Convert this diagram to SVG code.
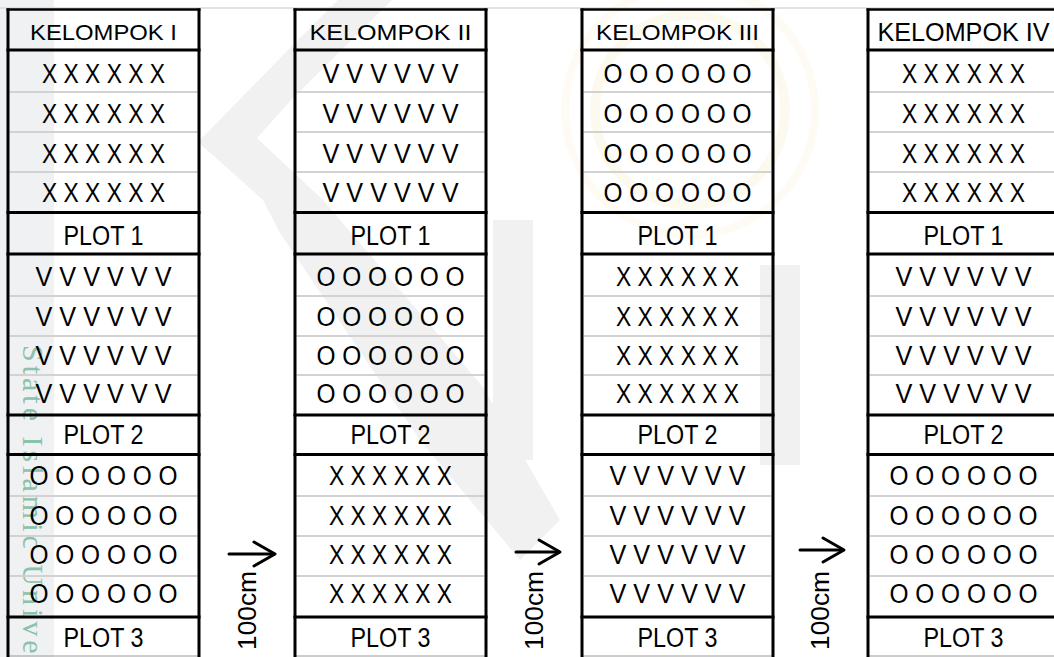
<svg xmlns="http://www.w3.org/2000/svg" width="1054" height="657" viewBox="0 0 1054 657">
<style>
  .t{font-family:"Liberation Sans",Arial,sans-serif;fill:#000;text-anchor:middle}
  .b{font-size:27px}
  .h{font-size:22px}
  .lbl{font-family:"Liberation Sans",Arial,sans-serif;font-size:26px;fill:#000}
  .thick{stroke:#000;stroke-width:3}
  .edge{stroke:#000;stroke-width:3}
  .thin{stroke:#d2d2d2;stroke-width:2}
  .bot{stroke:#9a9a9a;stroke-width:1}
  .wm{fill:#f1f1f1}
  .arrow{stroke:#000;stroke-width:3;fill:none;stroke-linecap:round;stroke-linejoin:round}
</style>
<defs>
  <g id="grid">
    <line class="thin" x1="1.5" y1="92" x2="189.5" y2="92"/>
    <line class="thin" x1="1.5" y1="132" x2="189.5" y2="132"/>
    <line class="thin" x1="1.5" y1="172" x2="189.5" y2="172"/>
    <line class="thin" x1="1.5" y1="296" x2="189.5" y2="296"/>
    <line class="thin" x1="1.5" y1="336" x2="189.5" y2="336"/>
    <line class="thin" x1="1.5" y1="375" x2="189.5" y2="375"/>
    <line class="thin" x1="1.5" y1="496" x2="189.5" y2="496"/>
    <line class="thin" x1="1.5" y1="536" x2="189.5" y2="536"/>
    <line class="thin" x1="1.5" y1="576" x2="189.5" y2="576"/>
    <line class="bot" x1="0" y1="656" x2="191" y2="656"/>
    <line class="edge" x1="-1.5" y1="9.5" x2="192.5" y2="9.5" style="stroke-width:2.5"/>
    <line class="thick" x1="-1.5" y1="50" x2="192.5" y2="50"/>
    <line class="thick" x1="-1.5" y1="212.5" x2="192.5" y2="212.5"/>
    <line class="thick" x1="-1.5" y1="254" x2="192.5" y2="254"/>
    <line class="thick" x1="-1.5" y1="415" x2="192.5" y2="415"/>
    <line class="thick" x1="-1.5" y1="454.5" x2="192.5" y2="454.5"/>
    <line class="thick" x1="-1.5" y1="617" x2="192.5" y2="617"/>
    <line class="edge" x1="0" y1="8.5" x2="0" y2="657"/>
    <line class="edge" x1="191" y1="8.5" x2="191" y2="657"/>
  </g>
</defs>
<rect width="1054" height="657" fill="#ffffff"/>

<g id="watermark">
  <rect x="0" y="0" width="54" height="657" fill="#eff1f2"/>
  <polygon class="wm" points="338,0 392,0 293,98 257,138 323,200 483,387 560,520 520,560 420,440 280,233 263,200 198,142 295,43"/>
  <rect class="wm" x="493" y="220" width="40" height="240"/>
  <rect class="wm" x="760" y="265" width="40" height="200"/>
  <circle cx="690" cy="110" r="95" fill="none" stroke="#fcf9ef" stroke-width="10"/>
  <circle cx="690" cy="110" r="125" fill="none" stroke="#fdfbf3" stroke-width="8"/>
  <text transform="translate(23,345) rotate(90)" font-family="'Liberation Serif',serif" font-size="30" letter-spacing="4" fill="#8cc1ab">State Islamic Unive</text>
</g>

<line x1="0" y1="8" x2="1054" y2="8" stroke="#d9d9d9" stroke-width="1.5"/>

<g id="kelompok-1" transform="translate(8,0)">
  <use href="#grid"/>
  <text class="t h" x="95.5" y="40" textLength="147" lengthAdjust="spacingAndGlyphs">KELOMPOK I</text>
  <text class="t b" x="95.5" y="83" textLength="123" lengthAdjust="spacingAndGlyphs">X X X X X X</text>
  <text class="t b" x="95.5" y="123" textLength="123" lengthAdjust="spacingAndGlyphs">X X X X X X</text>
  <text class="t b" x="95.5" y="163" textLength="123" lengthAdjust="spacingAndGlyphs">X X X X X X</text>
  <text class="t b" x="95.5" y="202" textLength="123" lengthAdjust="spacingAndGlyphs">X X X X X X</text>
  <text class="t b" x="95.5" y="245" textLength="80" lengthAdjust="spacingAndGlyphs">PLOT 1</text>
  <text class="t b" x="95.5" y="286" textLength="136" lengthAdjust="spacingAndGlyphs">V V V V V V</text>
  <text class="t b" x="95.5" y="326" textLength="136" lengthAdjust="spacingAndGlyphs">V V V V V V</text>
  <text class="t b" x="95.5" y="365" textLength="136" lengthAdjust="spacingAndGlyphs">V V V V V V</text>
  <text class="t b" x="95.5" y="403" textLength="136" lengthAdjust="spacingAndGlyphs">V V V V V V</text>
  <text class="t b" x="95.5" y="444" textLength="80" lengthAdjust="spacingAndGlyphs">PLOT 2</text>
  <text class="t b" x="95.5" y="485" textLength="148" lengthAdjust="spacingAndGlyphs">O O O O O O</text>
  <text class="t b" x="95.5" y="525" textLength="148" lengthAdjust="spacingAndGlyphs">O O O O O O</text>
  <text class="t b" x="95.5" y="564" textLength="148" lengthAdjust="spacingAndGlyphs">O O O O O O</text>
  <text class="t b" x="95.5" y="603" textLength="148" lengthAdjust="spacingAndGlyphs">O O O O O O</text>
  <text class="t b" x="95.5" y="647" textLength="80" lengthAdjust="spacingAndGlyphs">PLOT 3</text>
</g>

<g id="kelompok-2" transform="translate(295,0)">
  <use href="#grid"/>
  <text class="t h" x="95.5" y="40" textLength="162" lengthAdjust="spacingAndGlyphs">KELOMPOK II</text>
  <text class="t b" x="95.5" y="83" textLength="136" lengthAdjust="spacingAndGlyphs">V V V V V V</text>
  <text class="t b" x="95.5" y="123" textLength="136" lengthAdjust="spacingAndGlyphs">V V V V V V</text>
  <text class="t b" x="95.5" y="163" textLength="136" lengthAdjust="spacingAndGlyphs">V V V V V V</text>
  <text class="t b" x="95.5" y="202" textLength="136" lengthAdjust="spacingAndGlyphs">V V V V V V</text>
  <text class="t b" x="95.5" y="245" textLength="80" lengthAdjust="spacingAndGlyphs">PLOT 1</text>
  <text class="t b" x="95.5" y="286" textLength="148" lengthAdjust="spacingAndGlyphs">O O O O O O</text>
  <text class="t b" x="95.5" y="326" textLength="148" lengthAdjust="spacingAndGlyphs">O O O O O O</text>
  <text class="t b" x="95.5" y="365" textLength="148" lengthAdjust="spacingAndGlyphs">O O O O O O</text>
  <text class="t b" x="95.5" y="403" textLength="148" lengthAdjust="spacingAndGlyphs">O O O O O O</text>
  <text class="t b" x="95.5" y="444" textLength="80" lengthAdjust="spacingAndGlyphs">PLOT 2</text>
  <text class="t b" x="95.5" y="485" textLength="123" lengthAdjust="spacingAndGlyphs">X X X X X X</text>
  <text class="t b" x="95.5" y="525" textLength="123" lengthAdjust="spacingAndGlyphs">X X X X X X</text>
  <text class="t b" x="95.5" y="564" textLength="123" lengthAdjust="spacingAndGlyphs">X X X X X X</text>
  <text class="t b" x="95.5" y="603" textLength="123" lengthAdjust="spacingAndGlyphs">X X X X X X</text>
  <text class="t b" x="95.5" y="647" textLength="80" lengthAdjust="spacingAndGlyphs">PLOT 3</text>
</g>

<g id="kelompok-3" transform="translate(582,0)">
  <use href="#grid"/>
  <text class="t h" x="95.5" y="40" textLength="163" lengthAdjust="spacingAndGlyphs">KELOMPOK III</text>
  <text class="t b" x="95.5" y="83" textLength="148" lengthAdjust="spacingAndGlyphs">O O O O O O</text>
  <text class="t b" x="95.5" y="123" textLength="148" lengthAdjust="spacingAndGlyphs">O O O O O O</text>
  <text class="t b" x="95.5" y="163" textLength="148" lengthAdjust="spacingAndGlyphs">O O O O O O</text>
  <text class="t b" x="95.5" y="202" textLength="148" lengthAdjust="spacingAndGlyphs">O O O O O O</text>
  <text class="t b" x="95.5" y="245" textLength="80" lengthAdjust="spacingAndGlyphs">PLOT 1</text>
  <text class="t b" x="95.5" y="286" textLength="123" lengthAdjust="spacingAndGlyphs">X X X X X X</text>
  <text class="t b" x="95.5" y="326" textLength="123" lengthAdjust="spacingAndGlyphs">X X X X X X</text>
  <text class="t b" x="95.5" y="365" textLength="123" lengthAdjust="spacingAndGlyphs">X X X X X X</text>
  <text class="t b" x="95.5" y="403" textLength="123" lengthAdjust="spacingAndGlyphs">X X X X X X</text>
  <text class="t b" x="95.5" y="444" textLength="80" lengthAdjust="spacingAndGlyphs">PLOT 2</text>
  <text class="t b" x="95.5" y="485" textLength="136" lengthAdjust="spacingAndGlyphs">V V V V V V</text>
  <text class="t b" x="95.5" y="525" textLength="136" lengthAdjust="spacingAndGlyphs">V V V V V V</text>
  <text class="t b" x="95.5" y="564" textLength="136" lengthAdjust="spacingAndGlyphs">V V V V V V</text>
  <text class="t b" x="95.5" y="603" textLength="136" lengthAdjust="spacingAndGlyphs">V V V V V V</text>
  <text class="t b" x="95.5" y="647" textLength="80" lengthAdjust="spacingAndGlyphs">PLOT 3</text>
</g>

<g id="kelompok-4" transform="translate(868,0)">
  <use href="#grid"/>
  <text class="t" x="95.5" y="41" font-size="25" textLength="172" lengthAdjust="spacingAndGlyphs">KELOMPOK IV</text>
  <text class="t b" x="95.5" y="83" textLength="123" lengthAdjust="spacingAndGlyphs">X X X X X X</text>
  <text class="t b" x="95.5" y="123" textLength="123" lengthAdjust="spacingAndGlyphs">X X X X X X</text>
  <text class="t b" x="95.5" y="163" textLength="123" lengthAdjust="spacingAndGlyphs">X X X X X X</text>
  <text class="t b" x="95.5" y="202" textLength="123" lengthAdjust="spacingAndGlyphs">X X X X X X</text>
  <text class="t b" x="95.5" y="245" textLength="80" lengthAdjust="spacingAndGlyphs">PLOT 1</text>
  <text class="t b" x="95.5" y="286" textLength="136" lengthAdjust="spacingAndGlyphs">V V V V V V</text>
  <text class="t b" x="95.5" y="326" textLength="136" lengthAdjust="spacingAndGlyphs">V V V V V V</text>
  <text class="t b" x="95.5" y="365" textLength="136" lengthAdjust="spacingAndGlyphs">V V V V V V</text>
  <text class="t b" x="95.5" y="403" textLength="136" lengthAdjust="spacingAndGlyphs">V V V V V V</text>
  <text class="t b" x="95.5" y="444" textLength="80" lengthAdjust="spacingAndGlyphs">PLOT 2</text>
  <text class="t b" x="95.5" y="485" textLength="148" lengthAdjust="spacingAndGlyphs">O O O O O O</text>
  <text class="t b" x="95.5" y="525" textLength="148" lengthAdjust="spacingAndGlyphs">O O O O O O</text>
  <text class="t b" x="95.5" y="564" textLength="148" lengthAdjust="spacingAndGlyphs">O O O O O O</text>
  <text class="t b" x="95.5" y="603" textLength="148" lengthAdjust="spacingAndGlyphs">O O O O O O</text>
  <text class="t b" x="95.5" y="647" textLength="80" lengthAdjust="spacingAndGlyphs">PLOT 3</text>
</g>

<g id="connectors">
  <line class="arrow" x1="229" y1="554" x2="274" y2="554"/>
  <polyline class="arrow" points="254,542 275,554 254,566"/>
  <line class="arrow" x1="516" y1="552" x2="559" y2="552"/>
  <polyline class="arrow" points="539,540 560,552 539,564"/>
  <line class="arrow" x1="800" y1="550" x2="843" y2="550"/>
  <polyline class="arrow" points="823,538 844,550 823,562"/>
  <text class="lbl" transform="translate(256,650) rotate(-90)" textLength="79" lengthAdjust="spacingAndGlyphs">100cm</text>
  <text class="lbl" transform="translate(543,650) rotate(-90)" textLength="79" lengthAdjust="spacingAndGlyphs">100cm</text>
  <text class="lbl" transform="translate(829,650) rotate(-90)" textLength="79" lengthAdjust="spacingAndGlyphs">100cm</text>
</g>
</svg>
